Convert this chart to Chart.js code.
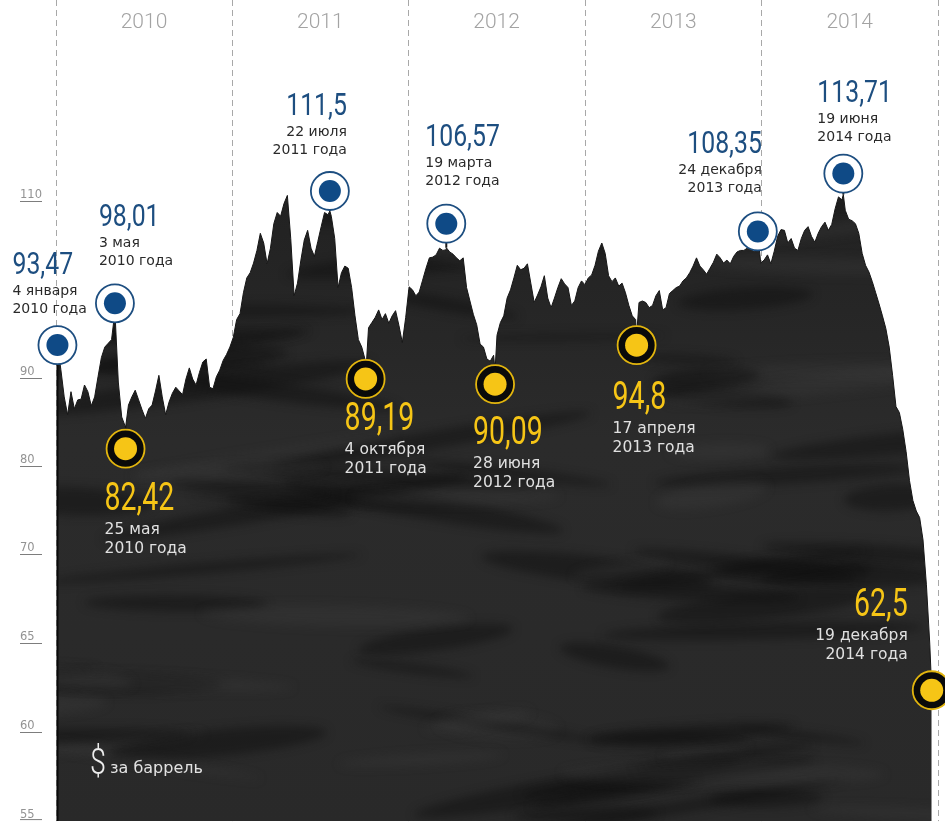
<!DOCTYPE html>
<html>
<head>
<meta charset="utf-8">
<script src="https://cdn.jsdelivr.net/npm/chart.js@4.4.1/dist/chart.umd.min.js"></script>
<style>
  html, body { margin: 0; padding: 0; background: #ffffff; }
  canvas { display: block; }
</style>
</head>
<body>
<canvas id="c" width="945" height="828"></canvas>
<script>
// ---------------- DATA ----------------
// Year boundaries (2015 is only the closing boundary of the axis)
const YEARS = [2010, 2011, 2012, 2013, 2014, 2015];

// Weekly price, $ per barrel, starting 4 Jan 2010, one value every 7 days
const SERIES_START = '2010-01-04';
const SERIES_STEP_DAYS = 7;
const WEEKLY_PRICE = [
  93.47, 90.2, 86.5, 84.1, 87.2, 84.9, 86.1, 86.2, 88.1, 87.2,
  85.3, 86.5, 89.2, 91.8, 93.2, 93.7, 94.2, 98.01, 88.5, 83.8,
  82.6, 85.4, 86.5, 87.4, 86.1, 84.8, 83.6, 84.9, 85.4, 87.3,
  89.4, 86.5, 84.1, 85.8, 87.0, 87.8, 87.3, 86.8, 88.9, 90.4,
  88.9, 88.1, 89.8, 91.2, 91.6, 87.8, 87.6, 89.2, 90.1, 91.4,
  92.2, 93.2, 94.5, 96.9, 97.7, 100.5, 102.5, 103.2, 104.5, 106.2,
  108.5, 107.2, 104.4, 106.5, 109.8, 111.3, 110.8, 112.5, 113.6, 107.8,
  100.1, 101.8, 104.9, 107.6, 108.9, 106.5, 105.4, 107.4, 109.4, 111.3,
  111.0, 110.8, 107.8, 101.2, 103.2, 104.1, 103.8, 101.2, 97.4, 94.2,
  93.2, 91.5, 95.8, 96.5, 97.2, 98.2, 96.9, 97.7, 96.4, 97.4,
  98.1, 96.1, 93.8, 97.2, 101.3, 100.9, 100.1, 100.6, 102.2, 103.8,
  105.2, 105.3, 105.6, 106.5, 106.2, 106.3, 106.0, 105.7, 105.2, 104.8,
  105.2, 101.2, 99.4, 97.6, 96.2, 93.6, 93.2, 91.6, 91.3, 92.1,
  94.8, 96.5, 97.4, 99.8, 100.9, 102.5, 104.2, 103.6, 103.8, 104.4,
  101.8, 99.2, 100.2, 101.3, 102.8, 99.8, 98.5, 99.8, 101.2, 102.4,
  101.7, 101.2, 98.8, 99.4, 101.2, 102.1, 101.6, 102.5, 102.9, 104.2,
  106.1, 107.2, 105.8, 102.8, 102.0, 102.5, 101.4, 101.8, 100.5, 98.8,
  97.4, 96.9, 99.2, 99.4, 99.2, 98.5, 98.8, 100.1, 100.8, 98.2,
  98.5, 100.4, 100.8, 101.2, 101.4, 102.1, 102.5, 103.2, 104.1, 105.2,
  104.1, 103.6, 103.0, 103.8, 104.6, 105.7, 105.2, 104.5, 104.9, 104.4,
  105.4, 106.0, 106.2, 106.2, 106.5, 106.5, 106.0, 107.0, 104.5, 104.9,
  105.6, 104.4, 106.1, 108.1, 109.0, 108.9, 107.2, 107.8, 106.5, 106.2,
  107.8, 108.9, 109.4, 108.1, 107.3, 108.5, 109.4, 110.0, 108.9, 109.7,
  111.8, 113.4, 113.0, 111.6, 110.4, 110.2, 109.8, 108.5, 105.8, 104.2,
  103.3, 102.0, 100.5, 99.0, 97.4, 95.7, 93.2, 89.4, 85.2, 84.4,
  82.3, 80.6, 78.4, 76.9, 76.1, 75.6, 73.9, 70.5, 66.0
];

// Highlighted highs and lows
const EXTREME_DATES  = ['2010-01-04', '2010-05-03', '2010-05-25', '2011-07-22', '2011-10-04',
                        '2012-03-19', '2012-06-28', '2013-04-17', '2013-12-24', '2014-06-19', '2014-12-19'];
const EXTREME_PRICES = [93.47, 98.01, 82.42, 111.5, 89.19, 106.57, 90.09, 94.8, 108.35, 113.71, 62.5];
const EXTREME_KIND   = ['high', 'high', 'low', 'high', 'low', 'high', 'low', 'low', 'high', 'high', 'low'];
const EXTREME_DAY_LABELS = ['4 января', '3 мая', '25 мая', '22 июля', '4 октября',
                            '19 марта', '28 июня', '17 апреля', '24 декабря', '19 июня', '19 декабря'];

// Tick labels of the value axis
const Y_TICKS = [110, 90, 80, 70, 65, 60, 55];
const UNIT_LABEL = 'за баррель';

// ---------------- LAYOUT (no data) ----------------
// piecewise-linear axes: [value, fraction of axis height from bottom]
const AXIS_KNOTS = {
  y:  [[52.6, 0], [62.5, 0.1675], [82.5, 0.505], [134.5, 1]],
  yt: [[55, 0], [70, 0.3414], [128.3, 1]]
};
// per-callout placement: stem length, text offset from marker, alignment
const CALLOUT = [
  { stem: 0,  dx: -45, dy: -71, align: 'left'  },
  { stem: 8,  dx: -16, dy: -77, align: 'left'  },
  { stem: 21, dx: -21, dy: 61,  align: 'left'  },
  { stem: 20, dx: 17,  dy: -76, align: 'right' },
  { stem: 2,  dx: -21, dy: 51,  align: 'left'  },
  { stem: 24, dx: -21, dy: -78, align: 'left'  },
  { stem: 14, dx: -22, dy: 60,  align: 'left'  },
  { stem: 10, dx: -24, dy: 64,  align: 'left'  },
  { stem: 3,  dx: 4,   dy: -78, align: 'right' },
  { stem: 21, dx: -26, dy: -72, align: 'left'  },
  { stem: 0,  dx: -24, dy: -74, align: 'right' }
];

// ---------------- helpers ----------------
const T0 = Date.UTC(2010, 0, 1);
const dayOf = s => (Date.UTC(+s.slice(0, 4), +s.slice(5, 7) - 1, +s.slice(8, 10)) - T0) / 864e5;
const YEAR_STARTS = YEARS.map(yr => (Date.UTC(yr, 0, 1) - T0) / 864e5);
const startDay = dayOf(SERIES_START);

const points = WEEKLY_PRICE.map((v, i) => ({ x: startDay + SERIES_STEP_DAYS * i, y: v }));
EXTREME_DATES.forEach((d, i) => points.push({ x: dayOf(d), y: EXTREME_PRICES[i] }));
points.sort((a, b) => a.x - b.x);

// ---------------- custom piecewise scale ----------------
class PiecewiseScale extends Chart.LinearScale {
  _k() { return AXIS_KNOTS[this.id]; }
  getPixelForValue(value) {
    const k = this._k();
    let i = 0;
    while (i < k.length - 2 && value > k[i + 1][0]) i++;
    const [v0, f0] = k[i], [v1, f1] = k[i + 1];
    const f = f0 + (value - v0) * (f1 - f0) / (v1 - v0);
    return this.getPixelForDecimal(f);
  }
  getValueForPixel(pixel) {
    const k = this._k();
    const f = this.getDecimalForPixel(pixel);
    let i = 0;
    while (i < k.length - 2 && f > k[i + 1][1]) i++;
    const [v0, f0] = k[i], [v1, f1] = k[i + 1];
    return v0 + (f - f0) * (v1 - v0) / (f1 - f0);
  }
}
PiecewiseScale.id = 'piecewise';
PiecewiseScale.defaults = Chart.LinearScale.defaults;
Chart.register(PiecewiseScale);

// ---------------- decorative "oil" texture for the area ----------------
function makeTexture(w, h) {
  const c = document.createElement('canvas');
  c.width = w; c.height = h;
  const g = c.getContext('2d');
  const base = g.createLinearGradient(0, 180, 0, h);
  base.addColorStop(0, '#212121');
  base.addColorStop(0.4, '#2b2b2b');
  base.addColorStop(1, '#292929');
  g.fillStyle = base;
  g.fillRect(0, 0, w, h);
  // fixed streak layout (decoration only, deterministic)
  const frac = k => { const t = Math.sin(k * 12.9898 + 4.1414) * 43758.5453; return t - Math.floor(t); };
  g.filter = 'blur(5px)';
  for (let i = 0; i < 90; i++) {
    const cx = frac(i * 3 + 1) * w, cy = 200 + frac(i * 3 + 2) * (h - 200);
    const rx = 40 + frac(i * 7 + 5) * 150, ry = 3 + frac(i * 5 + 9) * 11;
    const dark = frac(i * 11 + 3) < 0.65;
    g.fillStyle = dark ? 'rgba(14,14,14,0.45)' : 'rgba(66,66,66,0.25)';
    g.beginPath();
    g.ellipse(cx, cy, rx, ry, (frac(i * 13 + 7) - 0.5) * 0.35, 0, Math.PI * 2);
    g.fill();
  }
  return c;
}
let AREA_PATTERN = null;

// ---------------- drawing helpers ----------------
function drawText(ctx, text, x, y, font, color, align, sx) {
  ctx.save();
  ctx.translate(x, y);
  ctx.scale(sx || 1, 1);
  ctx.font = font;
  ctx.fillStyle = color;
  ctx.textAlign = align;
  ctx.textBaseline = 'alphabetic';
  ctx.fillText(text, 0, 0);
  ctx.restore();
}
function circle(ctx, x, y, r) { ctx.beginPath(); ctx.arc(x, y, r, 0, Math.PI * 2); }

const NUM_FONT = 'Roboto, "DejaVu Sans Condensed", sans-serif';
const TXT_FONT = '"DejaVu Sans", Verdana, sans-serif';
const BLUE = '#1d4e80', NAVY = '#0f4a86', YELLOW = '#f6c516', YRING = '#e2b50e';

const annotate = {
  id: 'annotate',
  afterDraw(chart) {
    const { ctx, chartArea: a, scales } = chart;
    const x = scales.x, y = scales.y, yt = scales.yt;
    ctx.save();

    // underlines under the value-axis labels
    ctx.strokeStyle = '#7d7d7d';
    ctx.lineWidth = 1;
    yt.ticks.forEach(t => {
      const py = Math.min(Math.round(yt.getPixelForValue(t.value)) + 0.5, a.bottom - 1.5);
      ctx.beginPath(); ctx.moveTo(yt.left, py); ctx.lineTo(yt.left + 22, py); ctx.stroke();
    });

    // solid left edge of the area
    const p0 = points[0];
    const ex = x.getPixelForValue(p0.x), ey = y.getPixelForValue(p0.y);
    ctx.strokeStyle = '#0a0a0a';
    ctx.lineWidth = 2;
    ctx.beginPath(); ctx.moveTo(ex, ey); ctx.lineTo(ex, a.bottom); ctx.stroke();

    // unit label
    drawText(ctx, '$', a.left + 34, a.bottom - 47, '300 36px ' + NUM_FONT, '#ededed', 'left', 0.8);
    drawText(ctx, UNIT_LABEL, a.left + 54, a.bottom - 48, '16px ' + TXT_FONT, '#e2e2e2', 'left', 1);

    // callouts
    EXTREME_DATES.forEach((d, i) => {
      const high = EXTREME_KIND[i] === 'high';
      const L = CALLOUT[i];
      const px = x.getPixelForValue(dayOf(d));
      const py = y.getPixelForValue(EXTREME_PRICES[i]);
      const cy = high ? py - L.stem : py + L.stem;

      // stem
      ctx.strokeStyle = '#1a1a1a';
      ctx.lineWidth = 2;
      ctx.beginPath(); ctx.moveTo(px, py); ctx.lineTo(px, cy); ctx.stroke();

      // marker
      circle(ctx, px, cy, 19);
      ctx.fillStyle = high ? '#ffffff' : '#0a0a0a';
      ctx.fill();
      ctx.lineWidth = 1.8;
      ctx.strokeStyle = high ? BLUE : YRING;
      ctx.stroke();
      circle(ctx, px, cy, high ? 11 : 11.5);
      ctx.fillStyle = high ? NAVY : YELLOW;
      ctx.fill();

      // texts
      const tx = px + L.dx, ty = cy + L.dy;
      const num = String(EXTREME_PRICES[i]).replace('.', ',');
      const yr = d.slice(0, 4) + ' года';
      if (high) {
        drawText(ctx, num, tx, ty, '31px ' + NUM_FONT, BLUE, L.align, 0.8);
        drawText(ctx, EXTREME_DAY_LABELS[i], tx, ty + 21, '14px ' + TXT_FONT, '#2a2a2a', L.align, 1);
        drawText(ctx, yr, tx, ty + 39, '14px ' + TXT_FONT, '#2a2a2a', L.align, 1);
      } else {
        drawText(ctx, num, tx, ty, '38px ' + NUM_FONT, YELLOW, L.align, 0.75);
        drawText(ctx, EXTREME_DAY_LABELS[i], tx, ty + 24, '15.5px ' + TXT_FONT, '#e0e0e0', L.align, 1);
        drawText(ctx, yr, tx, ty + 43, '15.5px ' + TXT_FONT, '#e0e0e0', L.align, 1);
      }
    });
    ctx.restore();
  }
};

// ---------------- chart ----------------
new Chart(document.getElementById('c'), {
  type: 'line',
  data: {
    datasets: [{
      data: points,
      xAxisID: 'x',
      yAxisID: 'y',
      fill: 'start',
      pointRadius: 0,
      borderWidth: 1,
      borderColor: '#161616',
      tension: 0,
      backgroundColor: (c) => {
        const chart = c.chart;
        if (!chart.chartArea) return '#2a2a2a';
        if (!AREA_PATTERN) {
          AREA_PATTERN = chart.ctx.createPattern(makeTexture(chart.width, chart.height), 'no-repeat');
        }
        return AREA_PATTERN;
      }
    }]
  },
  options: {
    responsive: false,
    animation: false,
    devicePixelRatio: 1,
    layout: { padding: { left: 20, right: 7, top: 0, bottom: 0 } },
    plugins: { legend: { display: false }, tooltip: { enabled: false } },
    events: [],
    scales: {
      x: {
        type: 'linear',
        position: 'top',
        min: YEAR_STARTS[0],
        max: YEAR_STARTS[YEAR_STARTS.length - 1],
        z: 1,
        afterBuildTicks: s => { s.ticks = YEAR_STARTS.map(v => ({ value: v })); },
        afterFit: s => { s.height = 40; },
        grid: {
          display: true, drawOnChartArea: true, drawTicks: true,
          tickLength: 40, color: '#a8a8a8', lineWidth: 1,
          tickColor: '#a8a8a8', tickWidth: 1, tickBorderDash: [6, 4]
        },
        border: { display: false, dash: [6, 4] },
        ticks: {
          autoSkip: false, maxRotation: 0, minRotation: 0,
          labelOffset: 88, padding: -35,
          color: '#a3a3a3',
          font: { family: 'Roboto', size: 21, weight: '300' },
          callback: (v, i) => (i < YEARS.length - 1 ? String(YEARS[i]) : '')
        }
      },
      y: {
        type: 'piecewise',
        display: false,
        min: AXIS_KNOTS.y[0][0],
        max: AXIS_KNOTS.y[AXIS_KNOTS.y.length - 1][0]
      },
      yt: {
        type: 'piecewise',
        position: 'left',
        min: AXIS_KNOTS.yt[0][0],
        max: AXIS_KNOTS.yt[AXIS_KNOTS.yt.length - 1][0],
        afterBuildTicks: s => { s.ticks = Y_TICKS.map(v => ({ value: v })); },
        afterFit: s => { s.width = 36; },
        grid: { display: false },
        border: { display: false },
        ticks: {
          autoSkip: false,
          crossAlign: 'far',
          labelOffset: -6,
          padding: 0,
          color: '#939393',
          font: { family: 'DejaVu Sans', size: 11.5 },
          callback: v => String(v)
        }
      }
    }
  },
  plugins: [annotate]
});
</script>
</body>
</html>
